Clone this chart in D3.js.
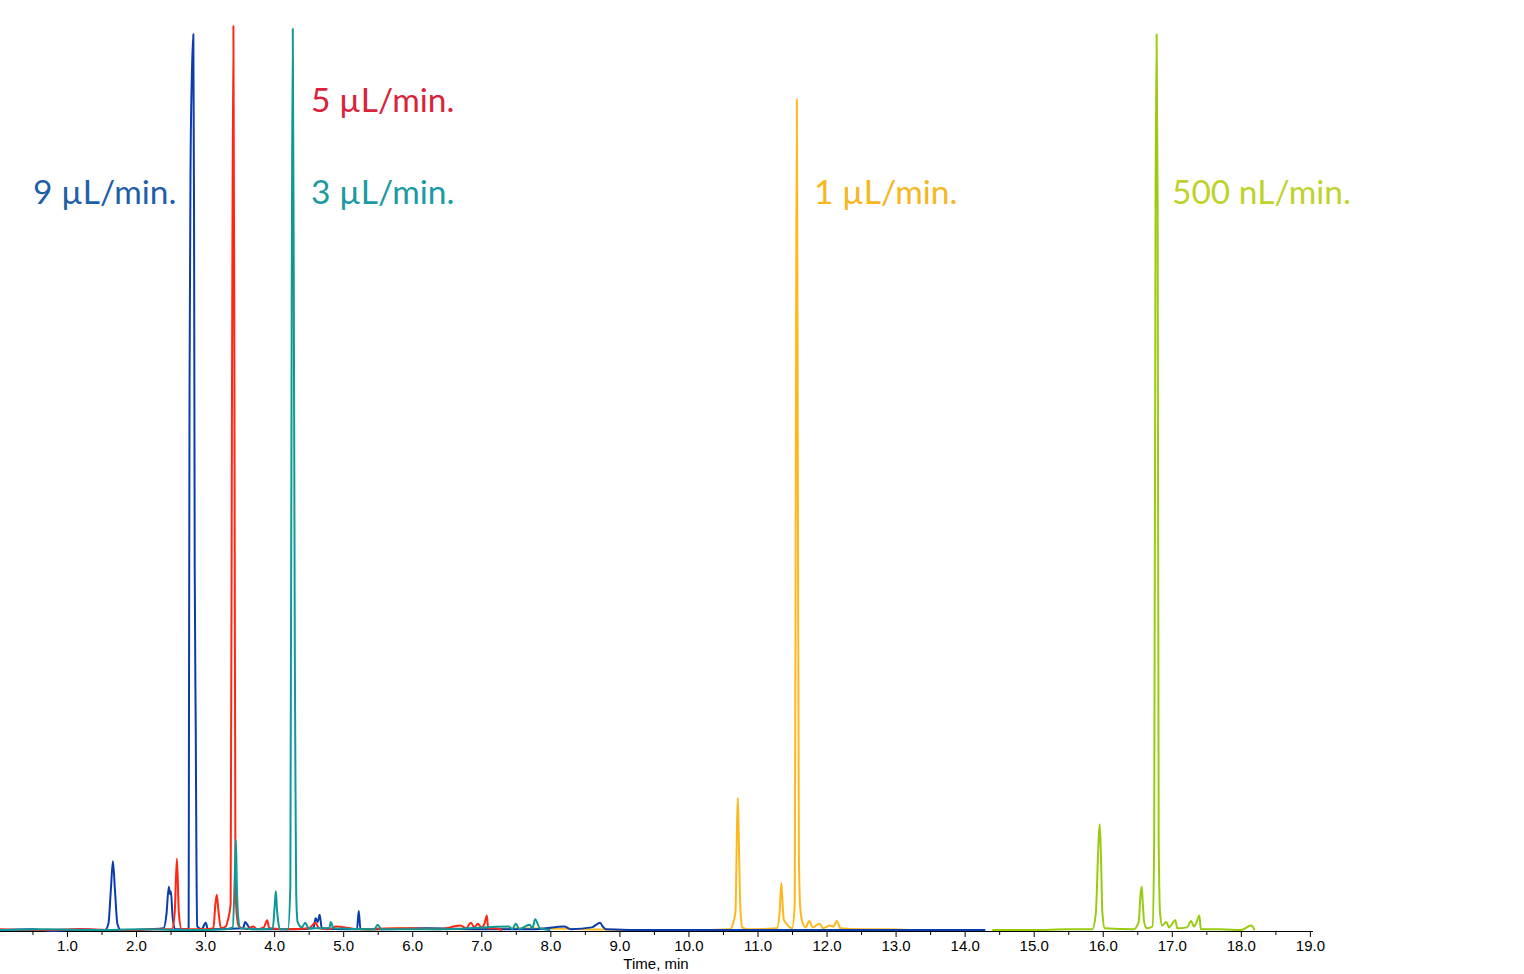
<!DOCTYPE html>
<html>
  <head>
    <title>Chromatogram flow rates</title>
    <script src="https://cdn.jsdelivr.net/npm/d3@7"></script>
    <style>
      body { margin: 0; background: #fff; }
    </style>
  </head>
  <body>
    <script>
      // Hver serie: [tid (min), intensitet (% af største top)]
      const blueTrace = [
        [0.03, 0.1], [0.5, 0.2], [0.8, 0.0], [1.2, 0.2], [1.55, 0.1], [1.6, 0.8],
        [1.635, 4.5], [1.665, 7.7], [1.695, 4.5], [1.73, 0.8], [1.78, 0.1], [2.2, 0.2],
        [2.4, 0.3], [2.44, 1.8], [2.475, 4.9], [2.49, 4.1], [2.505, 4.4], [2.53, 1.5],
        [2.57, 0.2], [2.74, 0.2], [2.762, 0.4], [2.766, 20], [2.775, 60], [2.79, 85],
        [2.81, 95], [2.83, 99.1], [2.84, 80], [2.85, 40], [2.865, 22], [2.875, 8],
        [2.885, 0.5], [2.95, 0.2], [3.01, 0.9], [3.04, 0.2], [3.55, 0.3], [3.58, 1.0],
        [3.62, 0.6], [3.66, 0.2], [4.3, 0.2], [4.57, 0.3], [4.6, 1.4], [4.63, 1.0],
        [4.66, 1.8], [4.69, 0.3], [5.0, 0.2], [5.2, 0.2], [5.225, 2.2], [5.25, 0.2],
        [5.6, 0.2], [6.2, 0.3], [7.0, 0.2], [7.8, 0.2], [8.2, 0.5], [8.3, 0.2],
        [8.6, 0.4], [8.72, 0.9], [8.76, 0.5], [8.8, 0.2], [9.5, 0.1], [10.5, 0.1],
        [12.0, 0.1], [13.5, 0.1], [14.3, 0.1]
      ];
      const redTrace = [
        [0.03, 0.2], [0.6, 0.1], [1.2, 0.2], [1.8, 0.1], [2.3, 0.2], [2.52, 0.2],
        [2.56, 2], [2.592, 8.0], [2.62, 2], [2.66, 0.2], [3.0, 0.2], [3.12, 0.3],
        [3.15, 3.0], [3.17, 4.0], [3.19, 2.5], [3.23, 0.3], [3.3, 0.5], [3.33, 1.2],
        [3.37, 3], [3.39, 60], [3.41, 100], [3.425, 60], [3.44, 5], [3.46, 1.7],
        [3.49, 0.5], [3.6, 0.2], [3.7, 0.5], [3.75, 0.2], [3.85, 0.4], [3.9, 1.2],
        [3.93, 0.3], [4.2, 0.2], [4.5, 0.3], [4.6, 0.9], [4.65, 0.3], [4.8, 0.2],
        [4.9, 0.5], [5.2, 0.2], [5.8, 0.3], [6.4, 0.2], [6.7, 0.6], [6.78, 0.3],
        [6.85, 0.9], [6.9, 0.4], [6.95, 0.8], [7.0, 0.4], [7.05, 0.9], [7.08, 1.7],
        [7.1, 0.3], [7.2, 0.3], [7.3, 0.1]
      ];
      const tealTrace = [
        [0.03, 0.1], [0.7, 0.2], [1.4, 0.1], [2.1, 0.2], [2.8, 0.1], [3.3, 0.2],
        [3.4, 0.4], [3.43, 6], [3.446, 10.1], [3.46, 5], [3.48, 1.5], [3.51, 0.3],
        [3.8, 0.2], [3.98, 0.3], [4.01, 3], [4.025, 4.4], [4.04, 2.5], [4.06, 1],
        [4.08, 0.2], [4.2, 0.2], [4.235, 5], [4.255, 70], [4.27, 99.7], [4.285, 70],
        [4.3, 30], [4.31, 15], [4.32, 4], [4.34, 1], [4.4, 0.4], [4.45, 0.9],
        [4.5, 0.3], [4.8, 0.3], [4.82, 1.0], [4.86, 0.3], [5.45, 0.2], [5.5, 0.7],
        [5.55, 0.2], [6.5, 0.2], [7.4, 0.5], [7.45, 0.2], [7.5, 0.8], [7.55, 0.2],
        [7.7, 0.7], [7.74, 0.3], [7.78, 1.3], [7.85, 0.3], [8.0, 0.1]
      ];
      const orangeTrace = [
        [5.3, 0.1], [6.0, 0.3], [6.8, 0.2], [7.6, 0.3], [8.5, 0.2], [9.3, 0.1],
        [10.0, 0.1], [10.6, 0.2], [10.68, 2], [10.705, 12], [10.716, 14.7], [10.73, 10],
        [10.75, 3], [10.78, 0.4], [10.85, 0.2], [11.28, 0.3], [11.32, 2], [11.345, 5.3],
        [11.36, 3.5], [11.38, 1.3], [11.42, 0.8], [11.5, 0.3], [11.54, 3], [11.555, 50],
        [11.57, 91.9], [11.585, 50], [11.6, 8], [11.62, 2.5], [11.65, 1], [11.7, 0.4],
        [11.75, 1.1], [11.8, 0.4], [11.9, 0.8], [11.95, 0.3], [12.05, 0.6], [12.1, 0.5],
        [12.15, 1.1], [12.2, 0.3], [12.5, 0.2], [12.9, 0.2], [13.2, 0.1]
      ];
      const greenTrace = [
        [14.4, 0.1], [15.0, 0.1], [15.5, 0.2], [15.85, 0.2], [15.9, 2], [15.94, 10],
        [15.957, 11.8], [15.975, 8], [15.995, 2], [16.03, 0.3], [16.45, 0.2], [16.52, 1],
        [16.55, 4.3], [16.565, 4.9], [16.58, 3], [16.6, 1], [16.64, 0.3], [16.72, 0.5],
        [16.745, 10], [16.765, 80], [16.78, 99.1], [16.795, 80], [16.81, 10], [16.83, 2],
        [16.86, 0.6], [16.92, 1], [16.96, 0.4], [17.05, 1.2], [17.08, 0.3], [17.22, 0.4],
        [17.28, 1.1], [17.32, 0.5], [17.35, 0.8], [17.4, 1.7], [17.42, 0.2], [17.7, 0.2],
        [18.0, 0.1], [18.15, 0.6], [18.2, 0.1]
      ];

      const seriesNames = ["9 µL/min.", "5 µL/min.", "3 µL/min.", "1 µL/min.", "500 nL/min."];
      const seriesTraces = [blueTrace, redTrace, tealTrace, orangeTrace, greenTrace];
      const lineColors = ["#0b3cae", "#ff2612", "#0f9898", "#ffb81c", "#9acb10"];
      const labelColors = ["#1f5fa8", "#d8233a", "#1b9aa0", "#f7b61d", "#bfd22c"];

      const majorTicks = d3.range(1, 20);
      const minorTicks = d3.range(0.5, 19, 1);

      const w = 1524;
      const h = 974;

      const x = d3.scaleLinear().domain([0.03, 19.045]).range([0, 1313]);
      const y = d3.scaleLinear().domain([0, 100]).range([931, 26]);

      const svg = d3
        .select("body")
        .append("svg")
        .attr("width", w)
        .attr("height", h);

      const line = d3
        .line()
        .x(function (d) { return x(d[0]); })
        .y(function (d) { return y(d[1]); })
        .curve(d3.curveMonotoneX);

      // x-akse med store og små streger
      svg
        .append("g")
        .attr("transform", "translate(0,931)")
        .call(d3.axisBottom(x).tickValues(minorTicks).tickSize(4).tickFormat(""))
        .call(function (g) { g.select(".domain").remove(); });

      const axis = svg
        .append("g")
        .attr("transform", "translate(0,931)")
        .call(
          d3.axisBottom(x)
            .tickValues(majorTicks)
            .tickSize(6)
            .tickSizeOuter(0)
            .tickFormat(d3.format(".1f"))
        );
      axis.select(".domain").attr("d", "M0,0.5H1313");
      axis
        .selectAll("text")
        .attr("font-family", "Liberation Sans, Arial, sans-serif")
        .attr("font-size", "15px")
        .attr("fill", "#000");

      svg
        .append("text")
        .attr("x", 656)
        .attr("y", 969)
        .attr("text-anchor", "middle")
        .attr("font-family", "Liberation Sans, Arial, sans-serif")
        .attr("font-size", "15px")
        .text("Time, min");

      // Tegn kurverne: grøn og orange først, så blå, rød og turkis ovenpå
      const drawOrder = [4, 3, 0, 1, 2];
      for (let i of drawOrder) {
        svg
          .append("path")
          .datum(seriesTraces[i])
          .attr("fill", "none")
          .attr("stroke", lineColors[i])
          .attr("stroke-width", 2)
          .attr("stroke-linejoin", "round")
          .attr("d", line);
      }

      // Etiketter for flowhastighed
      const labelPos = [[33, 204], [311, 112], [311, 204], [814, 204], [1172, 204]];
      svg
        .selectAll("text.label")
        .data(seriesNames)
        .enter()
        .append("text")
        .attr("class", "label")
        .attr("x", function (d, i) { return labelPos[i][0]; })
        .attr("y", function (d, i) { return labelPos[i][1]; })
        .attr("font-family", "Lato, sans-serif")
        .attr("font-size", "33.5px")
        .attr("fill", function (d, i) { return labelColors[i]; })
        .text(function (d) { return d; });
    </script>
  </body>
</html>
